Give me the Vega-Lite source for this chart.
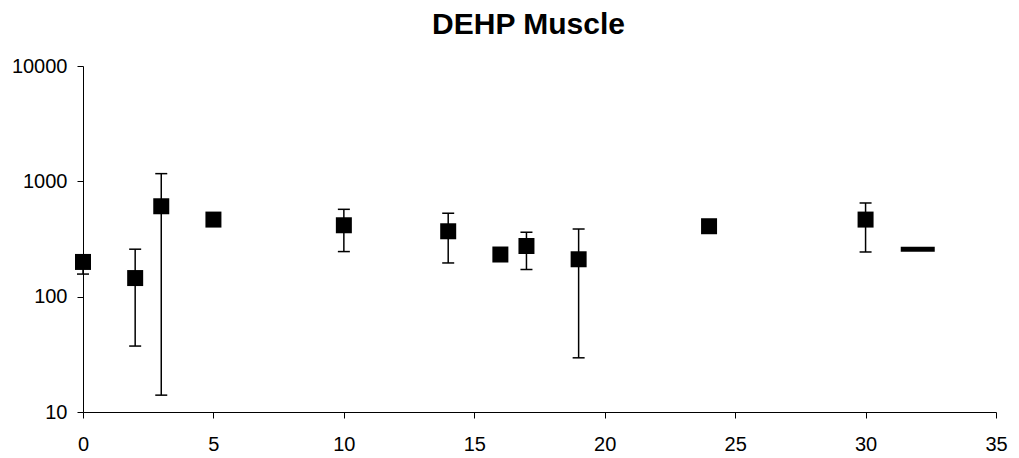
{
  "$schema": "https://vega.github.io/schema/vega-lite/v6.json",
  "width": 913,
  "height": 346,
  "autosize": {"type": "none"},
  "padding": {"left": 83, "top": 66, "right": 23, "bottom": 46},
  "background": "white",
  "title": {"text": "DEHP Muscle", "font": "Liberation Sans", "fontSize": 30, "fontWeight": "bold", "color": "black", "anchor": "middle", "offset": 16, "dx": -11},
  "config": {
    "view": {"stroke": null},
    "axis": {"grid": false, "domainColor": "black", "tickColor": "black", "labelColor": "black", "labelFont": "Liberation Sans", "labelFontSize": 20, "tickSize": 6, "domainWidth": 1, "tickWidth": 1, "title": null, "labelFlush": false}
  },
  "data": {"values": [
    {"day": 0, "conc": 200, "lo": 157, "hi": 210, "kind": "square"},
    {"day": 2, "conc": 145, "lo": 37.3, "hi": 258, "kind": "square"},
    {"day": 3, "conc": 608, "lo": 14.0, "hi": 1166, "kind": "square"},
    {"day": 5, "conc": 466, "lo": null, "hi": null, "kind": "square"},
    {"day": 10, "conc": 416, "lo": 246, "hi": 572, "kind": "square"},
    {"day": 14, "conc": 369, "lo": 196, "hi": 529, "kind": "square"},
    {"day": 16, "conc": 232, "lo": null, "hi": null, "kind": "square"},
    {"day": 17, "conc": 275, "lo": 172, "hi": 362, "kind": "square"},
    {"day": 19, "conc": 211, "lo": 29.5, "hi": 386, "kind": "square"},
    {"day": 24, "conc": 408, "lo": null, "hi": null, "kind": "square"},
    {"day": 30, "conc": 466, "lo": 244, "hi": 649, "kind": "square"},
    {"day": 32, "conc": 258, "lo": null, "hi": null, "kind": "dash"}
  ]},
  "encoding": {
    "x": {"field": "day", "type": "quantitative", "scale": {"domain": [0, 35], "nice": false, "zero": false},
      "axis": {"values": [0, 5, 10, 15, 20, 25, 30, 35], "labelPadding": 16, "labelFontSize": 20, "labelFlush": false}},
    "y": {"field": "conc", "type": "quantitative", "scale": {"type": "log", "domain": [10, 10000], "nice": false},
      "axis": {"values": [10, 100, 1000, 10000], "format": "d", "labelPadding": 10, "labelFontSize": 20, "labelFlush": false}}
  },
  "layer": [
    {
      "transform": [{"filter": "isValid(datum.lo)"}],
      "mark": {"type": "rule", "color": "black", "strokeWidth": 1.5},
      "encoding": {"y": {"field": "lo", "type": "quantitative"}, "y2": {"field": "hi"}}
    },
    {
      "transform": [{"filter": "isValid(datum.lo)"}],
      "mark": {"type": "tick", "orient": "horizontal", "color": "black", "opacity": 1, "size": 12, "thickness": 1.5},
      "encoding": {"y": {"field": "lo", "type": "quantitative"}}
    },
    {
      "transform": [{"filter": "isValid(datum.hi)"}],
      "mark": {"type": "tick", "orient": "horizontal", "color": "black", "opacity": 1, "size": 12, "thickness": 1.5},
      "encoding": {"y": {"field": "hi", "type": "quantitative"}}
    },
    {
      "transform": [{"filter": "datum.kind === 'square'"}],
      "mark": {"type": "point", "shape": "square", "filled": true, "color": "black", "opacity": 1, "size": 256}
    },
    {
      "transform": [{"filter": "datum.kind === 'dash'"}],
      "mark": {"type": "tick", "orient": "horizontal", "color": "black", "opacity": 1, "size": 34, "thickness": 5}
    }
  ]
}
